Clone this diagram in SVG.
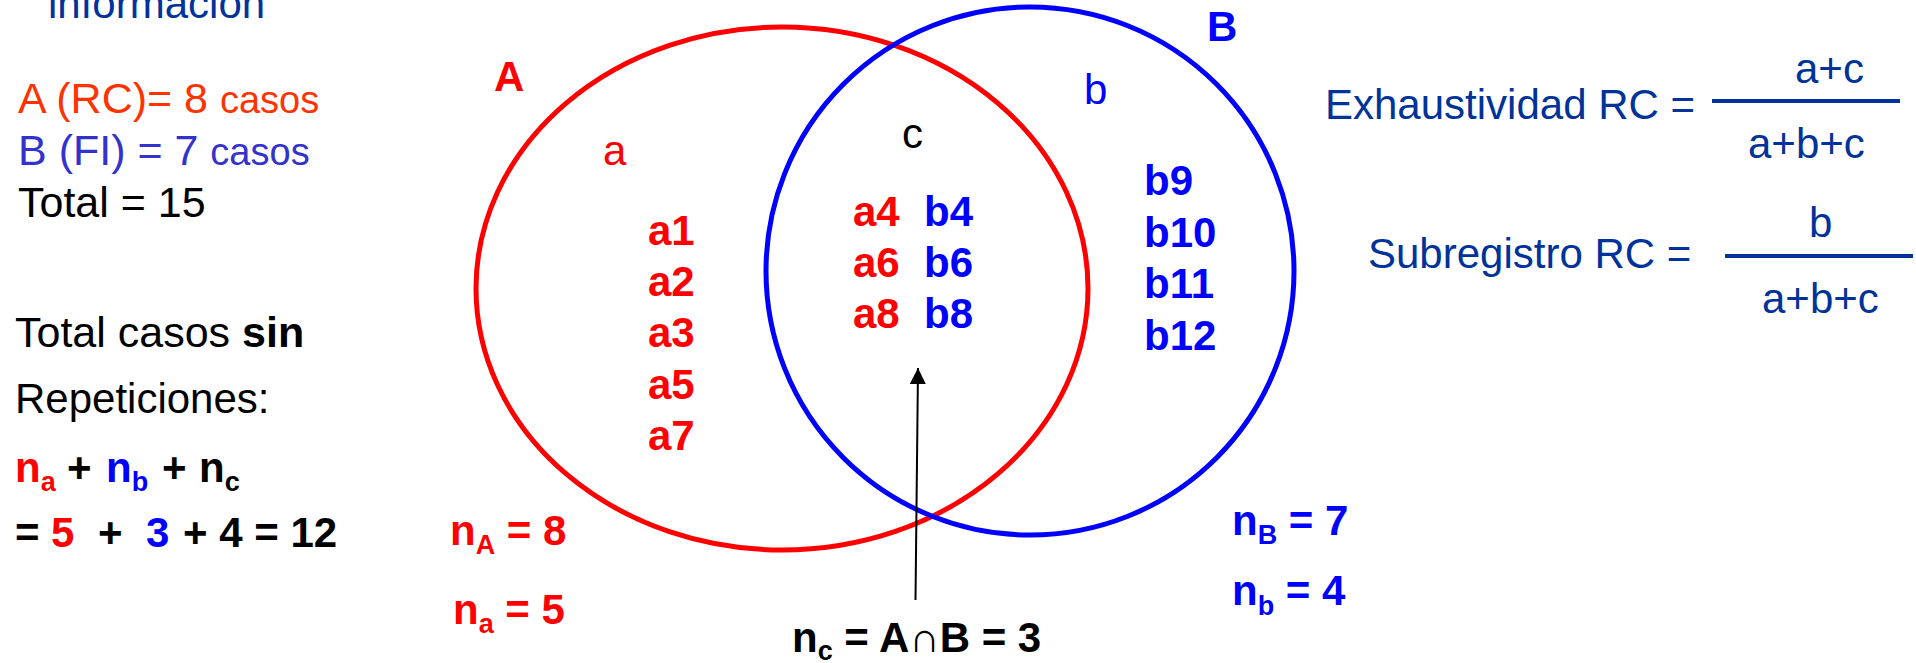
<svg xmlns="http://www.w3.org/2000/svg" width="1916" height="663" viewBox="0 0 1916 663">
<defs>
<style>
text{font-family:"Liberation Sans",Arial,"DejaVu Sans",sans-serif;font-size:42px}
.b{font-weight:bold}
.red{fill:#FF0000}
.blue{fill:#0000FF}
.blk{fill:#000000}
.navy{fill:#003399}
.sub{font-size:27px}
.big{font-size:43px}
.frac{stroke:#003399;stroke-width:4}
</style>
<marker id="ah" viewBox="0 0 10 10" refX="10" refY="5" markerWidth="16" markerHeight="16" markerUnits="userSpaceOnUse" orient="auto">
<path d="M0,0 L10,5 L0,10 z" fill="#000"/>
</marker>
</defs>
<rect width="1916" height="663" fill="#FFFFFF"/>

<g id="left-info">
<text x="48" y="18" class="navy">información</text>
<text x="18" y="113" class="big" fill="#FF3300">A (RC)= 8 <tspan font-size="38">casos</tspan></text>
<text x="18" y="165" class="big" fill="#3333CC">B (FI) = 7 <tspan font-size="38">casos</tspan></text>
<text x="18" y="217" class="big blk">Total = 15</text>
<text x="15" y="347" class="big blk">Total casos <tspan class="b">sin</tspan></text>
<text x="15" y="413" class="blk">Repeticiones:</text>
<text y="482" class="b"><tspan x="15" class="red">n</tspan><tspan class="red sub" dy="9">a</tspan><tspan x="67" dy="-9" class="blk">+</tspan><tspan x="106" class="blue">n</tspan><tspan class="blue sub" dy="9">b</tspan><tspan x="162" dy="-9" class="blk">+</tspan><tspan x="199" class="blk">n</tspan><tspan class="blk sub" dy="9">c</tspan></text>
<text y="547" class="b"><tspan x="15" class="blk">=</tspan><tspan x="51" class="red">5</tspan><tspan x="98" class="blk">+</tspan><tspan x="146" class="blue">3</tspan><tspan x="183" class="blk">+ 4 = 12</tspan></text>
</g>

<g id="setA">
<ellipse cx="782" cy="288.5" rx="306" ry="261.5" fill="none" stroke="#FF0000" stroke-width="5"/>
<text x="494" y="91" class="b red">A</text>
<text x="603" y="165" class="red">a</text>
<text x="648" y="245" class="b red">a1</text>
<text x="648" y="296" class="b red">a2</text>
<text x="648" y="347" class="b red">a3</text>
<text x="648" y="399" class="b red">a5</text>
<text x="648" y="450" class="b red">a7</text>
<text y="545" class="b red"><tspan x="450">n</tspan><tspan class="sub" dy="9">A</tspan><tspan dy="-9"> = 8</tspan></text>
<text y="624" class="b red"><tspan x="453">n</tspan><tspan class="sub" dy="9">a</tspan><tspan dy="-9"> = 5</tspan></text>
</g>

<g id="setB">
<ellipse cx="1030" cy="271" rx="264" ry="264" fill="none" stroke="#0000FF" stroke-width="5"/>
<text x="1207" y="41" class="b blue">B</text>
<text x="1084" y="104" class="blue">b</text>
<text x="1144" y="195" class="b blue">b9</text>
<text x="1144" y="247" class="b blue">b10</text>
<text x="1144" y="298" class="b blue">b11</text>
<text x="1144" y="350" class="b blue">b12</text>
<text y="535" class="b blue"><tspan x="1232">n</tspan><tspan class="sub" dy="9">B</tspan><tspan dy="-9"> = 7</tspan></text>
<text y="605" class="b blue"><tspan x="1232">n</tspan><tspan class="sub" dy="10">b</tspan><tspan dy="-10"> = 4</tspan></text>
</g>

<g id="intersection">
<text x="902" y="148" class="blk">c</text>
<text y="226" class="b"><tspan x="853" class="red">a4</tspan><tspan x="924" class="blue">b4</tspan></text>
<text y="277" class="b"><tspan x="853" class="red">a6</tspan><tspan x="924" class="blue">b6</tspan></text>
<text y="328" class="b"><tspan x="853" class="red">a8</tspan><tspan x="924" class="blue">b8</tspan></text>
<text y="652" class="b blk"><tspan x="792">n</tspan><tspan class="sub" dy="8">c</tspan><tspan dy="-8"> = A∩B = 3</tspan></text>
</g>

<g id="connectors">
<line x1="915.5" y1="600" x2="918" y2="368" stroke="#000" stroke-width="2" marker-end="url(#ah)"/>
</g>

<g id="formula-exhaustividad">
<text x="1325" y="119" class="navy">Exhaustividad RC =</text>
<line x1="1712" y1="101" x2="1900" y2="101" class="frac"/>
<text x="1795" y="83" class="navy">a+c</text>
<text x="1748" y="158" class="navy">a+b+c</text>
</g>

<g id="formula-subregistro">
<text x="1368" y="268" class="navy">Subregistro RC =</text>
<line x1="1725" y1="256" x2="1913" y2="256" class="frac"/>
<text x="1809" y="237" class="navy">b</text>
<text x="1762" y="313" class="navy">a+b+c</text>
</g>
</svg>
